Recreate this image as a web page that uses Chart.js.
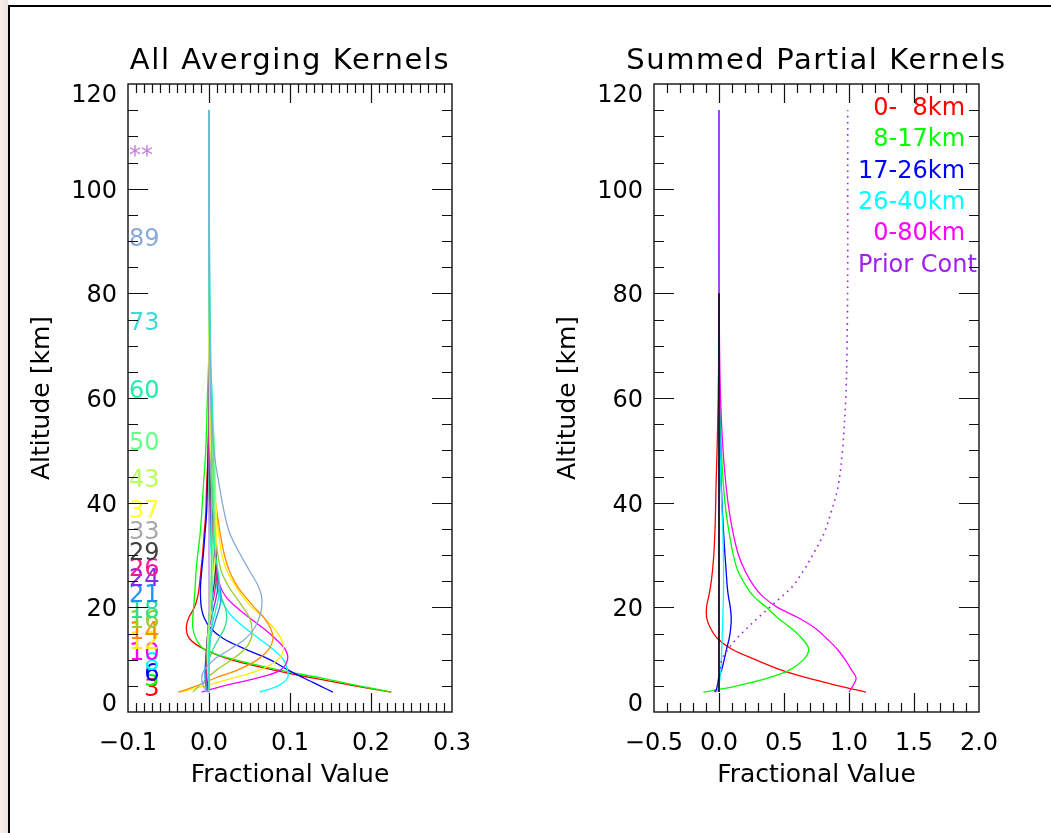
<!DOCTYPE html>
<html lang="en">
<head>
    <meta charset="UTF-8">
    <title>Averaging Kernels</title>
    <script src="https://cdn.jsdelivr.net/npm/chart.js"></script>
    <style>
        body {
            margin: 0;
            background: #fff;
        }
        #page {
            position: relative;
            width: 1051px;
            height: 833px;
            overflow: hidden;
            background: #fff;
        }
        #strip {
            position: absolute;
            left: 0;
            top: 0;
            width: 8px;
            height: 833px;
            background: linear-gradient(to right, #f8efeb, #f1e3dd);
        }
        #frame {
            position: absolute;
            left: 8px;
            top: 5px;
            width: 1100px;
            height: 900px;
            border-left: 2px solid #000;
            border-top: 2px solid #000;
        }
        canvas {
            position: absolute;
            top: 0;
        }
        #kernels { left: 0; }
        #summed { left: 527px; }
    </style>
</head>
<body>
<div id="page">
    <div id="strip"></div>
    <div id="frame"></div>
    <canvas id="kernels" width="527" height="833"></canvas>
    <canvas id="summed" width="524" height="833"></canvas>
</div>
<script>
    // altitude grid (km) shared by every profile
    const altitudes = [3.8, 5, 6.5, 8, 10, 12, 14, 16, 18, 20, 22, 24, 27, 30, 34, 38, 43, 50, 60, 70, 85, 100, 115];

    // averaging kernel rows, one per retrieval level
    const k3   = [0.225, 0.180, 0.128, 0.080, 0.027, -0.006, -0.024, -0.028, -0.025, -0.018, -0.014, -0.012, -0.010, -0.008, -0.006, -0.004, -0.003, -0.001, 0, 0, 0, 0, 0];
    const k5   = [0.225, 0.185, 0.138, 0.088, 0.032, -0.006, -0.016, -0.020, -0.020, -0.019, -0.018, -0.017, -0.016, -0.014, -0.011, -0.009, -0.007, -0.004, -0.002, 0, 0, 0, 0];
    const k6   = [0.153, 0.137, 0.117, 0.098, 0.075, 0.045, 0.018, 0.002, -0.006, -0.0095, -0.0105, -0.0105, -0.009, -0.007, -0.005, -0.003, -0.002, -0.001, 0, 0, 0, 0, 0];
    const k8   = [0.063, 0.085, 0.097, 0.097, 0.092, 0.079, 0.062, 0.045, 0.030, 0.020, 0.013, 0.009, 0.005, 0.003, 0.002, 0.001, 0.0005, 0, 0, 0, 0, 0, 0];
    const k10  = [-0.009, 0.018, 0.060, 0.088, 0.097, 0.094, 0.082, 0.067, 0.050, 0.034, 0.021, 0.014, 0.010, 0.007, 0.005, 0.003, 0.002, 0.001, 0, 0, 0, 0, 0];
    const k12  = [-0.037, -0.005, 0.030, 0.062, 0.085, 0.092, 0.089, 0.080, 0.068, 0.053, 0.042, 0.033, 0.022, 0.016, 0.012, 0.009, 0.006, 0.003, 0.001, 0, 0, 0, 0];
    const k14  = [-0.038, -0.015, 0.008, 0.035, 0.060, 0.074, 0.079, 0.076, 0.068, 0.056, 0.045, 0.035, 0.025, 0.019, 0.014, 0.010, 0.006, 0.003, 0.001, 0, 0, 0, 0];
    const k16  = [-0.020, -0.012, -0.002, 0.009, 0.028, 0.044, 0.052, 0.053, 0.050, 0.042, 0.033, 0.024, 0.015, 0.011, 0.008, 0.006, 0.004, 0.002, 0.001, 0, 0, 0, 0];
    const k18  = [0, -0.003, -0.004, -0.003, 0, 0.005, 0.012, 0.019, 0.022, 0.020, 0.015, 0.010, 0.006, 0.004, 0.002, 0.001, 0, 0, 0, 0, 0, 0, 0];
    const k21  = [-0.002, -0.004, -0.005, -0.005, -0.004, -0.002, 0.001, 0.005, 0.009, 0.013, 0.015, 0.013, 0.008, 0.005, 0.003, 0.002, 0.001, 0, 0, 0, 0, 0, 0];
    const k24  = [0, -0.002, -0.003, -0.004, -0.004, -0.003, -0.002, 0, 0.003, 0.006, 0.009, 0.011, 0.010, 0.007, 0.004, 0.002, 0.001, 0, 0, 0, 0, 0, 0];
    const k26  = [0, -0.001, -0.002, -0.003, -0.003, -0.003, -0.002, -0.001, 0.001, 0.003, 0.006, 0.008, 0.010, 0.008, 0.005, 0.003, 0.001, 0, 0, 0, 0, 0, 0];
    const k29  = [0, -0.001, -0.002, -0.002, -0.003, -0.003, -0.002, -0.001, 0, 0.002, 0.004, 0.006, 0.008, 0.009, 0.007, 0.004, 0.002, 0.001, 0, 0, 0, 0, 0];
    const k33  = [0, 0, -0.001, -0.002, -0.002, -0.002, -0.002, -0.001, 0, 0.001, 0.002, 0.004, 0.006, 0.008, 0.008, 0.006, 0.003, 0.001, 0, 0, 0, 0, 0];
    const k37  = [0, 0, -0.001, -0.001, -0.002, -0.002, -0.001, 0, 0.001, 0.002, 0.003, 0.004, 0.006, 0.008, 0.009, 0.009, 0.006, 0.002, 0.001, 0, 0, 0, 0];
    const k43  = [0, 0, 0, -0.001, -0.001, -0.001, -0.001, 0, 0.001, 0.001, 0.002, 0.003, 0.004, 0.005, 0.007, 0.008, 0.008, 0.005, 0.002, 0, 0, 0, 0];
    const k50  = [0, 0, 0, 0, -0.001, -0.001, 0, 0, 0, 0.001, 0.001, 0.002, 0.003, 0.004, 0.005, 0.006, 0.007, 0.007, 0.003, 0.001, 0, 0, 0];
    const k60  = [0, 0, 0, 0, 0, 0, 0.001, 0.003, 0.006, 0.009, 0.012, 0.013, 0.011, 0.008, 0.006, 0.005, 0.005, 0.005, 0.004, 0.001, 0, 0, 0];
    const k73  = [0, 0, 0, 0, 0, 0.001, 0.002, 0.003, 0.004, 0.004, 0.004, 0.004, 0.003, 0.003, 0.003, 0.003, 0.003, 0.003, 0.003, 0.002, 0.001, 0, 0];
    const k89  = [-0.002, -0.007, -0.009, -0.006, 0.006, 0.026, 0.045, 0.056, 0.062, 0.065, 0.065, 0.061, 0.050, 0.039, 0.026, 0.019, 0.013, 0.006, 0.002, 0.001, 0, 0, 0];
    const k105 = [0, 0, 0, 0, 0, 0, 0, 0, 0, 0, 0, 0, 0, 0, 0, 0, 0, 0, 0, 0, 0, 0, 0];

    const kernels = [k3, k5, k6, k8, k10, k12, k14, k16, k18, k21, k24, k26, k29, k33, k37, k43, k50, k60, k73, k89, k105];
    const levels = [3, 5, 6, 8, 10, 12, 14, 16, 18, 21, 24, 26, 29, 33, 37, 43, 50, 60, 73, 89, 105];
    const levelColors = ['#ff0000', '#00ff00', '#0000ff', '#00ffff', '#ff00ff', '#ffee00', '#ff8c00', '#9acd32',
        '#2ee08a', '#1e90ff', '#8a2be2', '#ff1493', '#404040', '#a8a8a8', '#ffff33', '#b8ff5a', '#66ff88',
        '#1ef0a8', '#40d8d8', '#88aad8', '#c080e0'];

    // kernels summed over altitude blocks, plus the a priori contribution
    const sum0to8   = [1.13, 0.92, 0.68, 0.48, 0.28, 0.10, -0.01, -0.065, -0.095, -0.096, -0.08, -0.065, -0.05, -0.04, -0.032, -0.027, -0.023, -0.015, -0.006, -0.002, 0, 0, 0];
    const sum8to17  = [-0.12, 0.14, 0.38, 0.54, 0.65, 0.69, 0.64, 0.555, 0.45, 0.365, 0.27, 0.21, 0.145, 0.11, 0.08, 0.055, 0.035, 0.018, 0.006, 0.002, 0, 0, 0];
    const sum17to26 = [-0.027, -0.012, -0.002, 0.02, 0.04, 0.058, 0.078, 0.090, 0.094, 0.087, 0.073, 0.063, 0.055, 0.046, 0.036, 0.027, 0.018, 0.009, 0.003, 0.001, 0, 0, 0];
    const sum26to40 = [-0.01, 0, 0.008, 0.014, 0.018, 0.021, 0.024, 0.027, 0.030, 0.032, 0.034, 0.035, 0.035, 0.034, 0.030, 0.024, 0.016, 0.008, 0.003, 0.001, 0, 0, 0];
    const sum0to80  = [1.0, 1.03, 1.055, 1.02, 0.97, 0.91, 0.83, 0.74, 0.61, 0.45, 0.34, 0.27, 0.20, 0.15, 0.11, 0.081, 0.055, 0.031, 0.012, 0.004, 0, 0, 0];
    const priorCont = [-0.035, -0.015, 0, 0.01, 0.022, 0.07, 0.135, 0.215, 0.30, 0.39, 0.48, 0.565, 0.65, 0.72, 0.805, 0.86, 0.915, 0.95, 0.975, 0.985, 0.99, 0.99, 0.99];

    const summedSeries = [sum0to8, sum8to17, sum17to26, sum26to40, sum0to80];
    const summedLabels = ['\u20070-\u20078km', '\u20078-17km', '17-26km', '26-40km', '\u20070-80km', 'Prior Cont'];
    const summedColors = ['#ff0000', '#00ff00', '#0000ff', '#00ffff', '#ff00ff', '#a020f0'];

    // zero reference lines in the summed panel
    const zeroTopAlt = [3.8, 115];
    const zeroMidAlt = [3.8, 80];

    const FONT = '"DejaVu Sans", "Liberation Sans", sans-serif';

    const toPoints = (vals, alts) => vals.map((v, i) => ({ x: v, y: alts[i] }));

    const fmtX = v => (v < -1e-9 ? '\u2212' : '') + Math.abs(v).toFixed(1);

    // IDL-style box: inward ticks on all four sides, labels and titles
    const idlAxes = {
        id: 'idlAxes',
        afterDraw(chart, args, o) {
            const { ctx, chartArea: a, scales: { x, y } } = chart;
            ctx.save();
            ctx.strokeStyle = '#111';
            ctx.lineWidth = 1.4;
            ctx.strokeRect(a.left, a.top, a.right - a.left, a.bottom - a.top);

            ctx.lineWidth = 1.2;
            ctx.beginPath();
            const nx = Math.round((x.max - x.min) / o.xMinor);
            for (let i = 1; i < nx; i++) {
                const px = Math.round(x.getPixelForValue(x.min + i * o.xMinor)) + 0.5;
                const len = i % o.xMajorEvery === 0 ? 19 : 9;
                ctx.moveTo(px, a.bottom); ctx.lineTo(px, a.bottom - len);
                ctx.moveTo(px, a.top); ctx.lineTo(px, a.top + len);
            }
            const ny = Math.round((y.max - y.min) / o.yMinor);
            for (let i = 1; i < ny; i++) {
                const py = Math.round(y.getPixelForValue(y.min + i * o.yMinor)) + 0.5;
                const len = i % o.yMajorEvery === 0 ? 20 : 10;
                ctx.moveTo(a.left, py); ctx.lineTo(a.left + len, py);
                ctx.moveTo(a.right, py); ctx.lineTo(a.right - len, py);
            }
            ctx.stroke();

            ctx.fillStyle = '#000';
            ctx.font = '24px ' + FONT;
            ctx.textBaseline = 'alphabetic';
            ctx.textAlign = 'center';
            x.ticks.forEach(t => ctx.fillText(fmtX(t.value), x.getPixelForValue(t.value), a.bottom + 38));
            ctx.textAlign = 'right';
            y.ticks.forEach(t => {
                const py = y.getPixelForValue(t.value) + 9;
                ctx.fillText(String(t.value), a.left - 11, Math.min(Math.max(py, a.top + 18), a.bottom - 1));
            });

            ctx.textAlign = 'center';
            ctx.font = '29px ' + FONT;
            ctx.letterSpacing = '1.6px';
            ctx.fillText(o.title, (a.left + a.right) / 2, 69);
            ctx.letterSpacing = '0px';

            ctx.font = '25px ' + FONT;
            ctx.fillText('Fractional Value', (a.left + a.right) / 2, a.bottom + 70);
            ctx.translate(a.left - 79, (a.top + a.bottom) / 2);
            ctx.rotate(-Math.PI / 2);
            ctx.fillText('Altitude [km]', 0, 0);
            ctx.restore();
        }
    };

    // level numbers down the left edge of the kernel panel
    const levelLabels = {
        id: 'levelLabels',
        afterDatasetsDraw(chart) {
            const { ctx, chartArea: a, scales: { y } } = chart;
            ctx.save();
            ctx.font = '24px ' + FONT;
            ctx.textAlign = 'left';
            ctx.textBaseline = 'alphabetic';
            levels.forEach((lv, i) => {
                ctx.fillStyle = levelColors[i];
                const txt = lv > 99 ? '**' : String(lv).padStart(2, '\u2007');
                ctx.fillText(txt, a.left + 1, y.getPixelForValue(lv));
            });
            ctx.restore();
        }
    };

    const blockLegend = {
        id: 'blockLegend',
        afterDatasetsDraw(chart) {
            const { ctx, chartArea: a } = chart;
            ctx.save();
            ctx.font = '24px ' + FONT;
            ctx.textAlign = 'left';
            ctx.textBaseline = 'alphabetic';
            summedLabels.forEach((t, i) => {
                ctx.fillStyle = summedColors[i];
                ctx.fillText(t, a.left + 204, a.top + 31 + i * 31.3);
            });
            ctx.restore();
        }
    };

    function makePanel(id, datasets, cfg, extra) {
        return new Chart(document.getElementById(id), {
            type: 'scatter',
            data: { datasets: datasets },
            options: {
                responsive: false,
                animation: false,
                devicePixelRatio: 1,
                layout: { padding: { top: 84, right: cfg.padRight, bottom: 0, left: 0 } },
                elements: {
                    point: { radius: 0 },
                    line: { tension: 0.35, borderWidth: 1.3, fill: false }
                },
                scales: {
                    x: {
                        type: 'linear', min: cfg.xMin, max: cfg.xMax,
                        ticks: { display: false, stepSize: cfg.xStep },
                        grid: { display: false, drawTicks: false },
                        border: { display: false },
                        afterFit: s => { s.height = 121; }
                    },
                    y: {
                        type: 'linear', min: 0, max: 120,
                        ticks: { display: false, stepSize: 20 },
                        grid: { display: false, drawTicks: false },
                        border: { display: false },
                        afterFit: s => { s.width = cfg.left; }
                    }
                },
                plugins: {
                    legend: { display: false },
                    tooltip: { enabled: false },
                    idlAxes: {
                        title: cfg.title,
                        xMinor: cfg.xMinor, xMajorEvery: cfg.xMajorEvery,
                        yMinor: 5, yMajorEvery: 4
                    }
                }
            },
            plugins: [idlAxes, extra]
        });
    }

    // later levels are drawn on top, the ** level sits underneath
    const kernelSets = kernels.map((k, i) => ({
        data: toPoints(k, altitudes),
        showLine: true,
        borderColor: levelColors[i],
        order: i === kernels.length - 1 ? 1 : -i
    }));

    makePanel('kernels', kernelSets, {
        title: 'All Averging Kernels',
        xMin: -0.1, xMax: 0.3, xStep: 0.1, xMinor: 0.01, xMajorEvery: 10,
        left: 128, padRight: 75
    }, levelLabels);

    // purple zero line underneath, black one over the block sums
    const summedSets = [
        { data: toPoints([0, 0], zeroTopAlt), showLine: true, borderColor: '#9050d0', tension: 0, order: 0 },
        { data: toPoints([0, 0], zeroMidAlt), showLine: true, borderColor: '#000000', tension: 0, borderWidth: 1.5, order: -20 }
    ];
    summedSeries.forEach((s, i) => summedSets.push({
        data: toPoints(s, altitudes),
        showLine: true,
        borderColor: summedColors[i],
        order: -2 - i
    }));
    summedSets.push({
        data: toPoints(priorCont, altitudes),
        showLine: true,
        borderColor: summedColors[5],
        borderWidth: 1.6,
        borderDash: [1.6, 4.5],
        order: -10
    });

    makePanel('summed', summedSets, {
        title: 'Summed Partial Kernels',
        xMin: -0.5, xMax: 2.0, xStep: 0.5, xMinor: 0.1, xMajorEvery: 5,
        left: 127, padRight: 72
    }, blockLegend);
</script>
</body>
</html>
